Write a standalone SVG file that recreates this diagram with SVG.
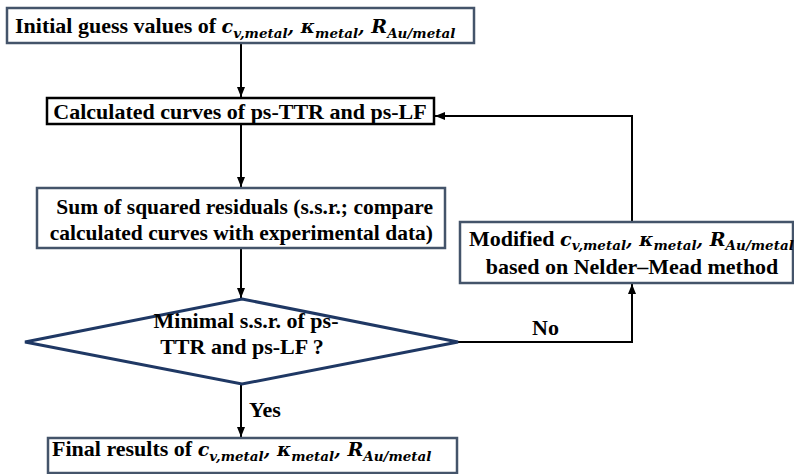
<svg xmlns="http://www.w3.org/2000/svg" width="794" height="474" viewBox="0 0 794 474">
<style>
.t{font-family:"Liberation Serif","Times New Roman",serif;font-weight:bold;font-size:22px;fill:#000}
.m{font-family:"DejaVu Serif",serif;font-style:italic;font-weight:bold;font-size:19px}
.s{font-family:"DejaVu Serif",serif;font-style:italic;font-weight:bold;font-size:13.5px}
.box{fill:#fff;stroke:#44546A;stroke-width:2.5}
.boxk{fill:#fff;stroke:#000;stroke-width:2.5}
.dia{fill:#fff;stroke:#1F3864;stroke-width:3}
.c{fill:none;stroke:#000;stroke-width:2}
</style>
<defs>
<marker id="ah" markerUnits="userSpaceOnUse" markerWidth="10" markerHeight="10" viewBox="0 0 10 10" refX="10" refY="5" orient="auto">
<path d="M0,1 L10,5 L0,9 Z" fill="#000"/>
</marker>
</defs>
<g id="connectors">
<line class="c" x1="241" y1="44" x2="241" y2="97" marker-end="url(#ah)"/>
<line class="c" x1="241" y1="124" x2="241" y2="187" marker-end="url(#ah)"/>
<line class="c" x1="241" y1="249" x2="241" y2="298" marker-end="url(#ah)"/>
<line class="c" x1="241" y1="385" x2="241" y2="437" marker-end="url(#ah)"/>
<polyline class="c" points="458,342 632,342 632,284" marker-end="url(#ah)"/>
<polyline class="c" points="632,222 632,116 435,116" marker-end="url(#ah)"/>
<text class="t" x="249" y="417">Yes</text>
<text class="t" x="532" y="335">No</text>
</g>
<g id="n1">
<rect class="box" x="7" y="8" width="467" height="35"/>
<text class="t" x="15" y="33">Initial guess values of <tspan class="m">c</tspan><tspan class="s" dy="5">v,metal</tspan><tspan class="m" dy="-5">, κ</tspan><tspan class="s" dy="5">metal</tspan><tspan class="m" dy="-5">, R</tspan><tspan class="s" dy="5">Au/metal</tspan></text>
</g>
<g id="n2">
<rect class="boxk" x="47" y="98" width="387" height="26"/>
<text class="t" x="240" y="119" text-anchor="middle">Calculated curves of ps-TTR and ps-LF</text>
</g>
<g id="n3">
<rect class="box" x="37" y="188" width="408" height="60"/>
<text class="t" x="433" y="214" text-anchor="end" style="font-size:21.5px">Sum of squared residuals (s.s.r.; compare</text>
<text class="t" x="433" y="240" text-anchor="end" style="font-size:21.5px">calculated curves with experimental data)</text>
</g>
<g id="n4">
<polygon class="dia" points="242,299 458,342 242,384 25,342"/>
<text class="t" x="246" y="328" text-anchor="middle">Minimal s.s.r. of ps-</text>
<text class="t" x="242" y="354" text-anchor="middle">TTR and ps-LF ?</text>
</g>
<g id="n5">
<rect class="box" x="460" y="222" width="333" height="61"/>
<text class="t" x="469" y="246">Modified <tspan class="m">c</tspan><tspan class="s" dy="4">v,metal</tspan><tspan class="m" dy="-4">, κ</tspan><tspan class="s" dy="4">metal</tspan><tspan class="m" dy="-4">, R</tspan><tspan class="s" dy="4">Au/metal</tspan></text>
<text class="t" x="632" y="274" text-anchor="middle">based on Nelder–Mead method</text>
</g>
<g id="n6">
<rect class="box" x="48" y="438" width="409" height="35"/>
<text class="t" x="52" y="456">Final results of <tspan class="m">c</tspan><tspan class="s" dy="5">v,metal</tspan><tspan class="m" dy="-5">, κ</tspan><tspan class="s" dy="5">metal</tspan><tspan class="m" dy="-5">, R</tspan><tspan class="s" dy="5">Au/metal</tspan></text>
</g>
</svg>
